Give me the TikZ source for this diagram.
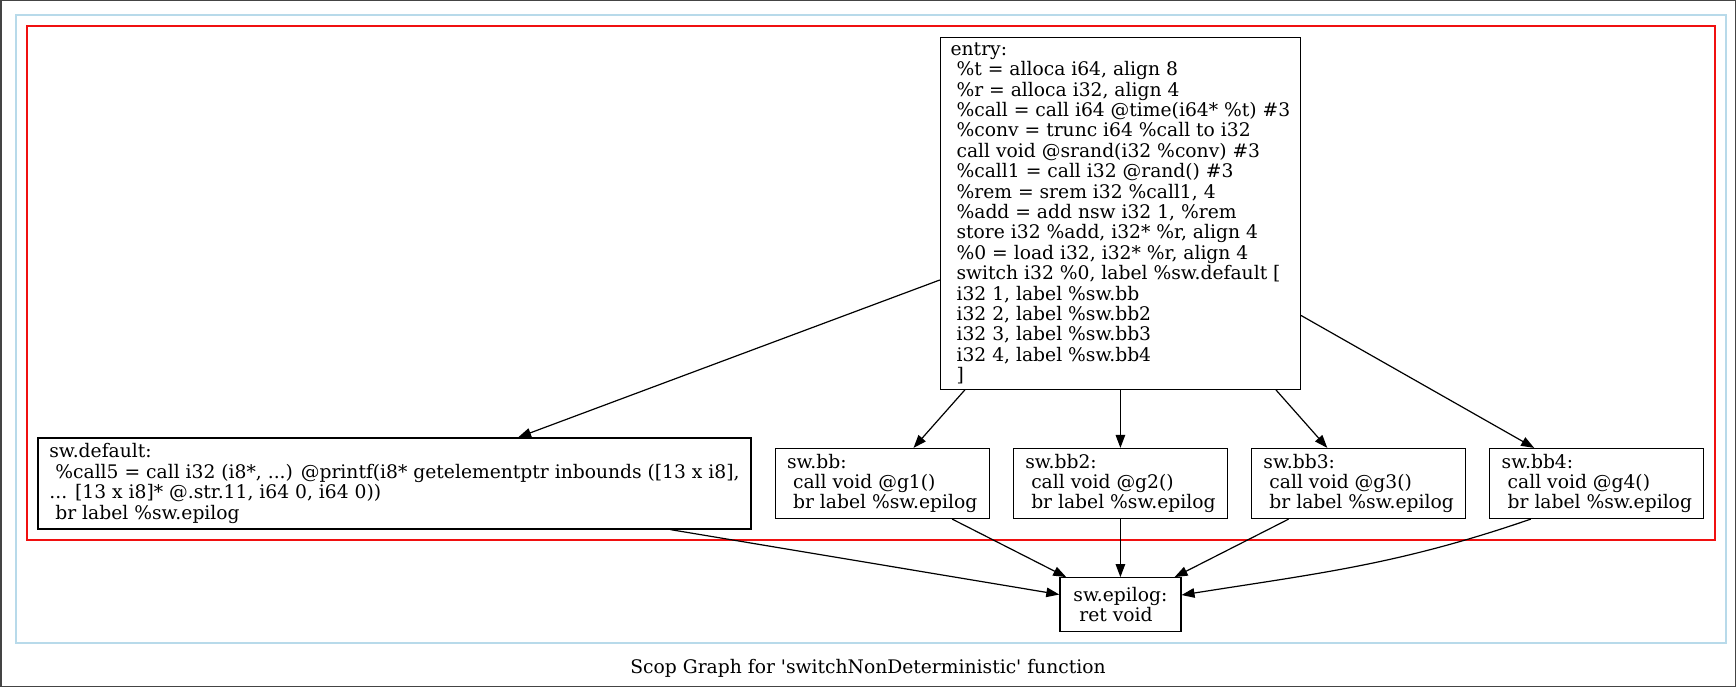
\documentclass[tikz,border=0pt]{standalone}
\usepackage{fontspec}
\setmainfont{DejaVu Serif}[Ligatures=TeXOff]
\usetikzlibrary{arrows.meta,positioning,fit}
\definecolor{Ink}{HTML}{000000}
\definecolor{Frame}{HTML}{444444}
\definecolor{ScopRed}{HTML}{F01010}
\definecolor{RegionBlue}{HTML}{B8DAEA}
\newcommand{\ind}{\hspace*{0.32em}}
\tikzset{
  blockbox/.style={draw=Ink,line width=1.2pt,fill=white,align=left,inner sep=0pt,font=\fontsize{18.7}{20.4}\selectfont,text=Ink},
  flow/.style={-{Triangle[length=13pt,width=9.5pt]},draw=Ink,line width=1.2pt},
  scopbox/.style={draw=ScopRed,line width=1.5pt,inner sep=10.5pt},
  regionbox/.style={draw=RegionBlue,line width=2pt,inner sep=10.5pt}
}

\begin{document}
\begin{tikzpicture}[x=1pt,y=-1pt,node distance=58pt and 23pt]
  \useasboundingbox (0,0) rectangle (1736,687);
  \draw[Frame,line width=1.5pt] (0.75,0.75) rectangle (1735.25,686.25);
  \node[blockbox,minimum width=713pt,minimum height=91pt] (swdefault) at (394.5,483.5)
    {sw.default:\\\ind\%call5 = call i32 (i8*, ...) @printf(i8* getelementptr inbounds ([13 x i8],\\... [13 x i8]* @.str.11, i64 0, i64 0))\\\ind br label \%sw.epilog};
  \node[blockbox,minimum width=214pt,minimum height=70pt,right=of swdefault] (swbb) {sw.bb:\\\ind call void @g1()\\\ind br label \%sw.epilog};
  \node[blockbox,minimum width=214pt,minimum height=70pt,right=of swbb] (swbb2) {sw.bb2:\\\ind call void @g2()\\\ind br label \%sw.epilog};
  \node[blockbox,minimum width=214pt,minimum height=70pt,right=of swbb2] (swbb3) {sw.bb3:\\\ind call void @g3()\\\ind br label \%sw.epilog};
  \node[blockbox,minimum width=214pt,minimum height=70pt,right=of swbb3] (swbb4) {sw.bb4:\\\ind call void @g4()\\\ind br label \%sw.epilog};
  \node[blockbox,minimum width=360pt,minimum height=352pt,above=of swbb2] (entry)
    {entry:\\\ind\%t = alloca i64, align 8\\\ind\%r = alloca i32, align 4\\\ind\%call = call i64 @time(i64* \%t) \#3\\\ind\%conv = trunc i64 \%call to i32\\\ind call void @srand(i32 \%conv) \#3\\\ind\%call1 = call i32 @rand() \#3\\\ind\%rem = srem i32 \%call1, 4\\\ind\%add = add nsw i32 1, \%rem\\\ind store i32 \%add, i32* \%r, align 4\\\ind\%0 = load i32, i32* \%r, align 4\\\ind switch i32 \%0, label \%sw.default [\\\ind i32 1, label \%sw.bb\\\ind i32 2, label \%sw.bb2\\\ind i32 3, label \%sw.bb3\\\ind i32 4, label \%sw.bb4\\\ind ]};
  \node[blockbox,minimum width=121pt,minimum height=54pt,below=of swbb2] (swepilog) {sw.epilog:\\\ind ret void};
  \node[scopbox,fit=(entry)(swdefault)(swbb4)] (scop) {};
  \node[regionbox,fit=(scop)(swepilog)] (region) {};
  \node[font=\fontsize{18.7}{20.4}\selectfont,text=Ink] (title) at (868,668) {Scop Graph for 'switchNonDeterministic' function};
  \draw[flow] (entry) -- (swdefault);
  \draw[flow] (entry) -- (swbb);
  \draw[flow] (entry) -- (swbb2);
  \draw[flow] (entry) -- (swbb3);
  \draw[flow] (entry) -- (swbb4);
  \draw[flow] (swdefault) -- (swepilog);
  \draw[flow] (swbb) -- (swepilog);
  \draw[flow] (swbb2) -- (swepilog);
  \draw[flow] (swbb3) -- (swepilog);
  \draw[flow] ([xshift=-66pt]swbb4.south) to[out=199,in=9] (swepilog);
\end{tikzpicture}
\end{document}
